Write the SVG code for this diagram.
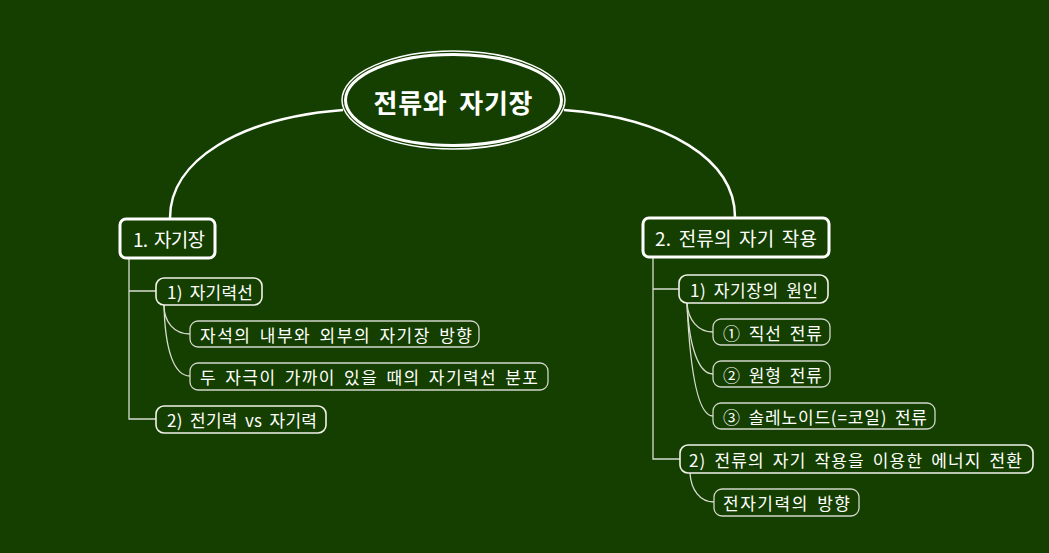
<svg xmlns="http://www.w3.org/2000/svg" width="1049" height="553" viewBox="0 0 1049 553">
<style>
text{font-family:"Noto Sans CJK KR","Noto Sans",sans-serif;fill:#ffffff;dominant-baseline:central}
.t1{font-size:19px;word-spacing:3px}
.t2{font-size:17px;word-spacing:3px}
.t3{font-size:17px;word-spacing:3px}
.b1{fill:none;stroke:#ffffff;stroke-width:3}
.b2{fill:none;stroke:#f0f2ea;stroke-width:1.6}
.b3{fill:none;stroke:#d0d6c8;stroke-width:1.3}
.c{fill:none;stroke:#d8ddd0;stroke-width:1.3}
.m{fill:none;stroke:#ffffff;stroke-width:2.5}
</style>
<rect width="1049" height="553" fill="#153f00"/>
<g id="connectors">
<path class="m" d="M343,110 C240,118 170,160 170,218"/>
<path class="m" d="M564,110 C668,118 735,160 735,217"/>
<path class="c" d="M129,258 V419 H156 M129,291 H156"/>
<path class="c" d="M164,305 C164,322 174,334 190,334"/>
<path class="c" d="M164,305 C165,350 174,376 190,376"/>
<path class="c" d="M653,257 V459 H680 M653,289 H679"/>
<path class="c" d="M687,303 C688,320 698,332 713,332"/>
<path class="c" d="M687,303 C689,345 698,374 713,374"/>
<path class="c" d="M687,303 C690,370 698,416 713,416"/>
<path class="c" d="M690,473 C691,490 700,502 714,502"/>
</g>
<g id="root">
<ellipse cx="453.5" cy="100" rx="111.5" ry="49" fill="none" stroke="#ffffff" stroke-width="1.5"/>
<ellipse cx="453.5" cy="100" rx="108" ry="45.5" fill="#153f00" stroke="#ffffff" stroke-width="3"/>
<text x="453" y="101" text-anchor="middle" font-size="26" font-weight="bold" word-spacing="5" textLength="159" lengthAdjust="spacing">전류와 자기장</text>
</g>
<g id="n1">
<rect class="b1" x="120" y="219" width="95" height="39" rx="6"/>
<text class="t1" x="133" y="238" textLength="72" lengthAdjust="spacing">1. 자기장</text>
</g>
<g id="n1-1">
<rect class="b2" x="156" y="278" width="106" height="27" rx="8"/>
<text class="t2" x="167" y="291" textLength="86" lengthAdjust="spacing">1) 자기력선</text>
</g>
<g id="n1-1-1">
<rect class="b3" x="190" y="321" width="289" height="26" rx="8"/>
<text class="t3" x="200" y="334" textLength="272" lengthAdjust="spacing">자석의 내부와 외부의 자기장 방향</text>
</g>
<g id="n1-1-2">
<rect class="b3" x="190" y="363" width="358" height="27" rx="8"/>
<text class="t3" x="200" y="376" textLength="338" lengthAdjust="spacing">두 자극이 가까이 있을 때의 자기력선 분포</text>
</g>
<g id="n1-2">
<rect class="b2" x="156" y="406" width="170" height="27" rx="8"/>
<text class="t2" x="167" y="419" textLength="150" lengthAdjust="spacing">2) 전기력 vs 자기력</text>
</g>
<g id="n2">
<rect class="b1" x="643" y="218" width="186" height="39" rx="6"/>
<text class="t1" x="655" y="237" textLength="162" lengthAdjust="spacing">2. 전류의 자기 작용</text>
</g>
<g id="n2-1">
<rect class="b2" x="679" y="275" width="149" height="28" rx="8"/>
<text class="t2" x="690" y="289" textLength="128" lengthAdjust="spacing">1) 자기장의 원인</text>
</g>
<g id="n2-1-1">
<rect class="b3" x="713" y="319" width="117" height="26" rx="8"/>
<text class="t3" x="723" y="332" textLength="99" lengthAdjust="spacing">① 직선 전류</text>
</g>
<g id="n2-1-2">
<rect class="b3" x="713" y="361" width="117" height="26" rx="8"/>
<text class="t3" x="723" y="374" textLength="99" lengthAdjust="spacing">② 원형 전류</text>
</g>
<g id="n2-1-3">
<rect class="b3" x="713" y="403" width="222" height="26" rx="8"/>
<text class="t3" x="723" y="416" textLength="204" lengthAdjust="spacing">③ 솔레노이드(=코일) 전류</text>
</g>
<g id="n2-2">
<rect class="b2" x="680" y="445" width="353" height="28" rx="8"/>
<text class="t2" x="689" y="459" textLength="333" lengthAdjust="spacing">2) 전류의 자기 작용을 이용한 에너지 전환</text>
</g>
<g id="n2-2-1">
<rect class="b3" x="714" y="489" width="145" height="27" rx="8"/>
<text class="t3" x="723" y="502" textLength="127" lengthAdjust="spacing">전자기력의 방향</text>
</g>
</svg>
